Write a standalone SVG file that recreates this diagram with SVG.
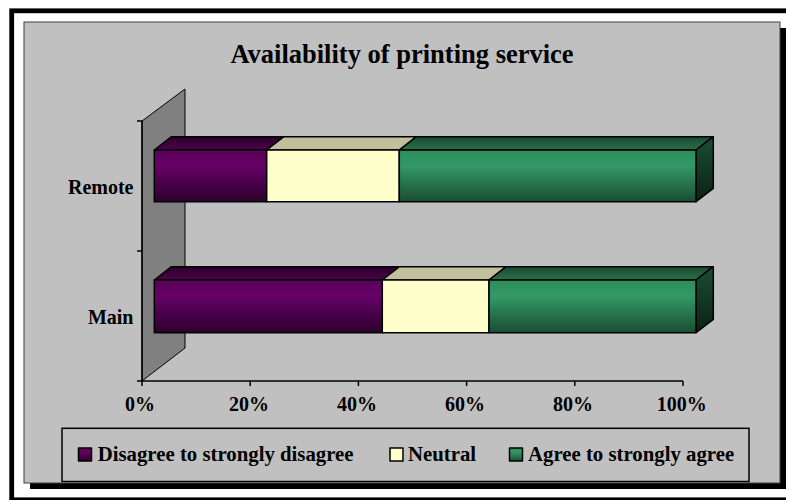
<svg xmlns="http://www.w3.org/2000/svg" width="786" height="500" viewBox="0 0 786 500">
<defs>
<style>
.t{font-family:"Liberation Serif","Times New Roman",serif;font-weight:bold;fill:#000}
.edge{stroke:#000;stroke-width:1.5;stroke-linejoin:round}
.ax{stroke:#000;stroke-width:1.5;fill:none}
</style>
<linearGradient id="pF" x1="0" y1="0" x2="0" y2="1"><stop offset="0" stop-color="#5a005a"/><stop offset="0.3" stop-color="#660066"/><stop offset="1" stop-color="#2c002c"/></linearGradient>
<linearGradient id="pT" x1="0" y1="0" x2="0" y2="1"><stop offset="0" stop-color="#2a002a"/><stop offset="1" stop-color="#4e004c"/></linearGradient>
<linearGradient id="gF" x1="0" y1="0" x2="0" y2="1"><stop offset="0" stop-color="#2e8c5d"/><stop offset="0.3" stop-color="#339966"/><stop offset="1" stop-color="#1a4d33"/></linearGradient>
<linearGradient id="gT" x1="0" y1="0" x2="0" y2="1"><stop offset="0" stop-color="#1a4a31"/><stop offset="1" stop-color="#2b6e4b"/></linearGradient>
<linearGradient id="gR" x1="0" y1="0" x2="0" y2="1"><stop offset="0" stop-color="#1a4d33"/><stop offset="1" stop-color="#0b2216"/></linearGradient>
</defs>
<rect x="0" y="0" width="786" height="500" fill="#fff"/>
<g id="frame">
<rect x="11.7" y="10.8" width="790" height="489" fill="none" stroke="#000" stroke-width="4.8"/>
<rect x="30" y="28" width="756" height="461" fill="#000"/>
<rect x="24" y="22" width="756" height="461" fill="#c0c0c0" stroke="#404040" stroke-width="1"/>
</g>
<g id="title"><text class="t" x="402" y="63.3" font-size="26.5" text-anchor="middle">Availability of printing service</text></g>
<g id="wall">
<polygon points="142,121 185,89 185,348 142,381" fill="#808080" stroke="#000" stroke-width="1"/>
</g>
<g id="axes">
<path class="ax" d="M142,121 V381 H683"/>
<path class="ax" d="M137,121 H142 M137,251 H142 M137,381 H142 M142,381 V386 M250.2,381 V386 M358.4,381 V386 M466.6,381 V386 M574.8,381 V386 M683,381 V386"/>
</g>
<g id="bar-remote">
<polygon class="edge" fill="url(#pT)" points="154.3,150 171.5,136.7 283.9,136.7 266.7,150"/>
<polygon class="edge" fill="#c0c09c" points="266.7,150 283.9,136.7 416.5,136.7 399.3,150"/>
<polygon class="edge" fill="url(#gT)" points="399.3,150 416.5,136.7 713.3,136.7 696,150"/>
<polygon class="edge" fill="url(#gR)" points="696,150 713.3,136.7 713.3,188.4 696,201.7"/>
<rect class="edge" fill="url(#pF)" x="154.3" y="150" width="112.4" height="51.7"/>
<rect class="edge" fill="#ffffcc" x="266.7" y="150" width="132.6" height="51.7"/>
<rect class="edge" fill="url(#gF)" x="399.3" y="150" width="296.7" height="51.7"/>
</g>
<g id="bar-main">
<polygon class="edge" fill="url(#pT)" points="154.3,280 171.5,266.7 399.5,266.7 382.3,280"/>
<polygon class="edge" fill="#c0c09c" points="382.3,280 399.5,266.7 506.2,266.7 489,280"/>
<polygon class="edge" fill="url(#gT)" points="489,280 506.2,266.7 713.3,266.7 696,280"/>
<polygon class="edge" fill="url(#gR)" points="696,280 713.3,266.7 713.3,319.4 696,332.7"/>
<rect class="edge" fill="url(#pF)" x="154.3" y="280" width="228" height="52.7"/>
<rect class="edge" fill="#ffffcc" x="382.3" y="280" width="106.7" height="52.7"/>
<rect class="edge" fill="url(#gF)" x="489" y="280" width="207" height="52.7"/>
</g>
<g id="labels">
<text class="t" x="133.5" y="194" font-size="20" text-anchor="end">Remote</text>
<text class="t" x="133.5" y="324" font-size="20" text-anchor="end">Main</text>
<g font-size="20" text-anchor="middle">
<text class="t" x="140" y="411">0%</text>
<text class="t" x="249" y="411">20%</text>
<text class="t" x="357" y="411">40%</text>
<text class="t" x="465" y="411">60%</text>
<text class="t" x="573" y="411">80%</text>
<text class="t" x="681.7" y="411">100%</text>
</g>
</g>
<g id="legend">
<rect x="62" y="428.3" width="687" height="53.2" fill="#c0c0c0" stroke="#000" stroke-width="1.5"/>
<rect class="edge" fill="url(#pF)" x="78.5" y="448" width="13" height="13"/>
<text class="t" x="97.7" y="461" font-size="20.8">Disagree to strongly disagree</text>
<rect class="edge" fill="#ffffcc" x="390" y="448" width="13" height="13"/>
<text class="t" x="408" y="461" font-size="20.8">Neutral</text>
<rect class="edge" fill="url(#gF)" x="509.5" y="448" width="13" height="13"/>
<text class="t" x="528" y="461" font-size="20.8">Agree to strongly agree</text>
</g>
</svg>
